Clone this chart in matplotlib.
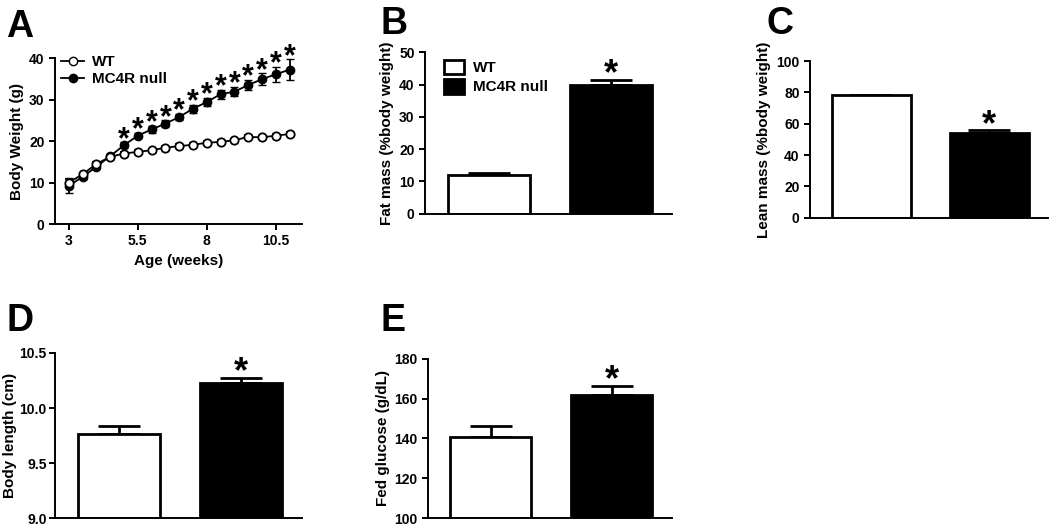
import matplotlib
matplotlib.use("Agg")
import matplotlib.pyplot as plt
from matplotlib.patches import Patch
from matplotlib.lines import Line2D

plt.rcParams['font.family'] = ['Liberation Sans', 'DejaVu Sans']
plt.rcParams['font.weight'] = 'bold'
plt.rcParams['axes.labelweight'] = 'bold'
plt.rcParams['axes.linewidth'] = 1.4
plt.rcParams['xtick.major.width'] = 1.4
plt.rcParams['ytick.major.width'] = 1.4

# panel A: body weight over time
weeks = [3, 3.5, 4, 4.5, 5, 5.5, 6, 6.5, 7, 7.5, 8, 8.5, 9, 9.5, 10, 10.5, 11]
wt_bw = [10.0, 12.0, 14.5, 16.2, 17.0, 17.4, 17.8, 18.4, 18.8, 19.1, 19.6, 19.8, 20.2, 21.0, 20.9, 21.3, 21.7]
wt_bw_err = [0.8, 0.4, 0.4, 0.4, 0.4, 0.4, 0.4, 0.4, 0.4, 0.4, 0.4, 0.4, 0.4, 0.4, 0.4, 0.4, 0.4]
ko_bw = [9.2, 11.4, 13.8, 16.4, 19.0, 21.3, 22.8, 24.2, 25.8, 27.8, 29.4, 31.3, 31.9, 33.5, 34.9, 36.1, 37.2]
ko_bw_err = [1.8, 0.6, 0.6, 0.5, 0.7, 0.6, 0.8, 0.8, 0.8, 1.0, 1.0, 1.1, 1.1, 1.2, 1.4, 1.8, 2.5]
star_weeks = [5, 5.5, 6, 6.5, 7, 7.5, 8, 8.5, 9, 9.5, 10, 10.5, 11]

groups = ['WT', 'MC4R null']
fat_mass = [12.0, 39.9]
fat_mass_err = [0.7, 1.6]
lean_mass = [78.2, 54.3]
lean_mass_err = [0.4, 1.4]
body_length = [9.76, 10.225]
body_length_err = [0.075, 0.05]
glucose = [141.0, 161.8]
glucose_err = [5.3, 4.8]

fig = plt.figure(figsize=(10.5, 5.26), dpi=100)

def style(ax):
    ax.spines['top'].set_visible(False)
    ax.spines['right'].set_visible(False)
    ax.tick_params(labelsize=10, length=4)
    for lab in ax.get_xticklabels() + ax.get_yticklabels():
        lab.set_fontweight('bold')

def star(ax, x, y, size, drop):
    ax.annotate('*', (x, y), xytext=(0, -drop), textcoords='offset points',
                ha='center', va='bottom', fontsize=size, fontweight='bold')

def bar_panel(rect, vals, errs, ylim, yticks, ylabel, fmt='%g', legend=False, labx=None):
    ax = fig.add_axes(rect)
    x = [0, 1]
    heights = [v - ylim[0] for v in vals]
    ax.bar(x, heights, bottom=ylim[0], width=0.67, color=['white', 'black'],
           edgecolor='black', linewidth=2, zorder=2)
    for xi, v, e in zip(x, vals, errs):
        ax.errorbar(xi, v, yerr=[[0], [e]], color='black', capsize=15,
                    capthick=2, elinewidth=2, zorder=1)
    star(ax, 1, vals[1] + errs[1], 26, 9)
    ax.set_xlim(-0.52, 1.5)
    ax.set_ylim(ylim)
    ax.set_yticks(yticks)
    ax.set_yticklabels([fmt % t for t in yticks])
    ax.set_xticks([])
    ax.set_ylabel(ylabel, fontsize=11)
    if labx is not None:
        ax.yaxis.set_label_coords(labx, 0.5)
    style(ax)
    if legend:
        handles = [Patch(facecolor='white', edgecolor='black', linewidth=2),
                   Patch(facecolor='black', edgecolor='black', linewidth=2)]
        ax.legend(handles, groups, loc='upper left', bbox_to_anchor=(0.02, 1.04),
                  frameon=False, fontsize=11, handlelength=1.3, handleheight=1.1,
                  labelspacing=0.25, handletextpad=0.6)
    return ax

# A
axA = fig.add_axes([0.0524, 0.574, 0.2352, 0.3156])
axA.errorbar(weeks, wt_bw, yerr=wt_bw_err, color='black', marker='o', markersize=6,
             markerfacecolor='white', markeredgewidth=1.3, linewidth=1.3, capsize=3,
             zorder=3)
axA.errorbar(weeks, ko_bw, yerr=ko_bw_err, color='black', marker='o', markersize=6,
             markerfacecolor='black', linewidth=1.3, capsize=3, zorder=2)
for w in star_weeks:
    i = weeks.index(w)
    star(axA, w, ko_bw[i] + ko_bw_err[i], 22, 9)
axA.set_xlim(2.5, 11.45)
axA.set_ylim(0, 40)
axA.set_xticks([3, 5.5, 8, 10.5])
axA.set_xticklabels(['3', '5.5', '8', '10.5'])
axA.set_yticks([0, 10, 20, 30, 40])
axA.set_xlabel('Age (weeks)', fontsize=11)
axA.set_ylabel('Body Weight (g)', fontsize=11)
legA = [Line2D([], [], color='black', marker='o', markerfacecolor='white', markersize=6, lw=1.3),
        Line2D([], [], color='black', marker='o', markerfacecolor='black', markersize=6, lw=1.3)]
axA.legend(legA, groups, loc='upper left', bbox_to_anchor=(-0.03, 1.1), frameon=False,
           fontsize=11, handlelength=1.5, labelspacing=0.2, handletextpad=0.5)
style(axA)

bar_panel([0.4048, 0.5937, 0.2352, 0.307], fat_mass, fat_mass_err, (0, 50),
          [0, 10, 20, 30, 40, 50], 'Fat mass (%body weight)', legend=True)
bar_panel([0.7714, 0.5861, 0.2267, 0.2979], lean_mass, lean_mass_err, (0, 100),
          [0, 20, 40, 60, 80, 100], 'Lean mass (%body weight)')
axD = bar_panel([0.0524, 0.0152, 0.2352, 0.3137], body_length, body_length_err, (9.0, 10.5),
                [9.0, 9.5, 10.0, 10.5], 'Body length (cm)', fmt='%.1f', labx=-0.155)
axD.tick_params(axis='y', pad=2)
bar_panel([0.4076, 0.0152, 0.2324, 0.3023], glucose, glucose_err, (100, 180),
          [100, 120, 140, 160, 180], 'Fed glucose (g/dL)', labx=-0.155)

for lab, x, y in [('A', 0.006, 0.93), ('B', 0.362, 0.935), ('C', 0.730, 0.935),
                  ('D', 0.006, 0.37), ('E', 0.362, 0.37)]:
    fig.text(x, y, lab, fontsize=27, fontweight='bold')

fig.savefig('out.png', dpi=100)
